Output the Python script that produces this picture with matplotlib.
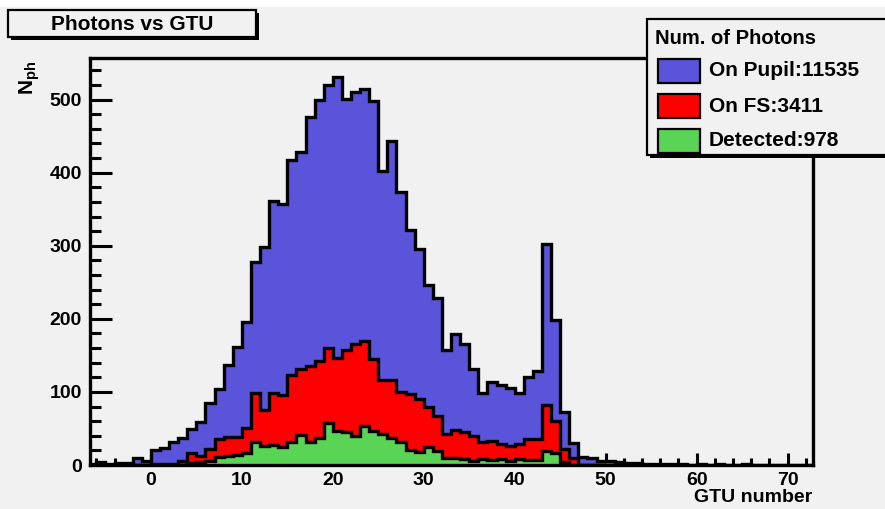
"""
Photons vs GTU -- ROOT-style overlaid step histograms
"""

import matplotlib

matplotlib.use("Agg")
import matplotlib.pyplot as plt
import numpy as np
from matplotlib.patches import Rectangle
from matplotlib.ticker import MultipleLocator

# --------------------------------------------------------------------------- #
# DATA -- photon counts per GTU bin, first bin starts at GTU = -7             #
# --------------------------------------------------------------------------- #
GTU_FIRST = -7

on_pupil = [
    2, 4, 1, 3, 3, 9, 5,
    20, 23, 32, 37, 49, 59, 85, 104, 137, 162,
    196, 278, 299, 361, 357, 418, 428, 476, 499, 520,
    531, 501, 510, 515, 498, 402, 444, 374, 321, 296,
    247, 228, 157, 179, 166, 132, 99, 114, 110, 105,
    98, 121, 128, 303, 198, 72, 30, 11, 9, 6,
    5, 4, 3, 3, 2, 2, 1, 1, 1, 0,
    1, 0, 1, 0, 0, 1, 0, 0, 0, 0,
    0, 0, 0,
]

on_fs = [
    0, 0, 0, 0, 0, 0, 0,
    2, 1, 1, 6, 17, 13, 22, 36, 38, 39,
    50, 98, 75, 98, 96, 123, 132, 136, 143, 160,
    147, 157, 166, 170, 145, 116, 116, 100, 97, 90,
    80, 67, 42, 48, 45, 40, 31, 33, 29, 26,
    29, 35, 35, 82, 60, 22, 9, 0, 0, 0,
]

detected = [
    0, 0, 0, 0, 0, 0, 0,
    0, 0, 0, 0, 3, 4, 5, 11, 13, 14,
    17, 32, 26, 27, 25, 32, 41, 32, 37, 57,
    47, 45, 40, 53, 46, 42, 37, 32, 20, 18,
    24, 19, 10, 9, 8, 6, 8, 7, 8, 6,
    8, 7, 7, 19, 16, 4, 0, 0, 0, 0,
]

legend_title = "Num. of Photons"
legend_labels = ["On Pupil:11535", "On FS:3411", "Detected:978"]
colors = ["#5954d9", "#ff0000", "#59d454"]

W, H = 885, 509
BG = "#f1f1f1"
FONT = "Liberation Sans"


def fx(px):
    return px / W


def fy(py):
    return 1 - py / H


def edges_for(vals):
    return np.arange(len(vals) + 1) + GTU_FIRST


def pave(fig, x0, y0, x1, y1):
    # ROOT pave: shadowed box
    fig.patches.append(Rectangle((fx(x0 + 3), fy(y1 + 3)), fx(x1 - x0), (y1 - y0) / H,
                                 transform=fig.transFigure, facecolor="black",
                                 edgecolor="none", zorder=5))
    fig.patches.append(Rectangle((fx(x0), fy(y1)), fx(x1 - x0), (y1 - y0) / H,
                                 transform=fig.transFigure, facecolor=BG,
                                 edgecolor="black", lw=1.6, zorder=6))


def main() -> None:
    plt.rcParams["font.family"] = [FONT, "DejaVu Sans"]
    plt.rcParams["font.weight"] = "bold"
    plt.rcParams["mathtext.fontset"] = "custom"
    plt.rcParams["mathtext.rm"] = f"{FONT}:bold"
    plt.rcParams["mathtext.bf"] = f"{FONT}:bold"

    fig = plt.figure(figsize=(W / 100, H / 100), dpi=100, facecolor=BG)
    fig.patches.append(Rectangle((0, fy(7)), 1, 7 / H, transform=fig.transFigure,
                                 facecolor="white", edgecolor="none", zorder=0))

    ax = fig.add_axes([fx(90), fy(465), fx(813 - 90), (465 - 58) / H])
    ax.set_facecolor(BG)

    for vals, col in zip([on_pupil, on_fs, detected], colors):
        e = edges_for(vals)
        ax.stairs(vals, e, fill=True, color=col, zorder=2)
        ax.stairs(vals, e, fill=False, color="black", lw=2.4, zorder=3)

    ax.set_xlim(-6.7, 72.8)
    ax.set_ylim(0, 557)

    ax.xaxis.set_major_locator(MultipleLocator(10))
    ax.xaxis.set_minor_locator(MultipleLocator(2))
    ax.yaxis.set_major_locator(MultipleLocator(100))
    ax.yaxis.set_minor_locator(MultipleLocator(20))
    ax.tick_params(axis="both", which="both", direction="in", width=2.2,
                   top=False, right=False, labelsize=14, colors="black", zorder=4)
    ax.tick_params(axis="y", which="major", length=16, pad=6)
    ax.tick_params(axis="y", which="minor", length=8)
    ax.tick_params(axis="x", which="major", length=9, pad=5)
    ax.tick_params(axis="x", which="minor", length=5)
    for lab in ax.get_xticklabels() + ax.get_yticklabels():
        lab.set_fontweight("bold")
    for sp in ax.spines.values():
        sp.set_linewidth(2.4)
        sp.set_zorder(4)

    fig.text(fx(812), fy(498), "GTU number", ha="right", va="center",
             fontsize=14, fontweight="bold")
    fig.text(fx(30), fy(61), r"$\mathrm{N}_{\mathrm{ph}}$", rotation=90,
             ha="center", va="top", fontsize=15)

    # title pave
    pave(fig, 8, 10, 256, 37)
    fig.text(fx(132), fy(24), "Photons vs GTU", ha="center", va="center",
             fontsize=15, fontweight="bold", zorder=7)

    # legend pave
    pave(fig, 647, 19, 895, 155)
    fig.text(fx(655), fy(38), legend_title, ha="left", va="center",
             fontsize=14.5, fontweight="bold", zorder=7)
    for k, (lab, col) in enumerate(zip(legend_labels, colors)):
        yc = 71 + 35 * k
        fig.patches.append(Rectangle((fx(658), fy(yc + 12)), fx(42), 24 / H,
                                     transform=fig.transFigure, facecolor=col,
                                     edgecolor="black", lw=1.6, zorder=7))
        fig.text(fx(709), fy(yc), lab, ha="left", va="center",
                 fontsize=15, fontweight="bold", zorder=7)

    fig.savefig("out.png", dpi=100, facecolor=BG)
    plt.close(fig)


if __name__ == "__main__":
    main()
